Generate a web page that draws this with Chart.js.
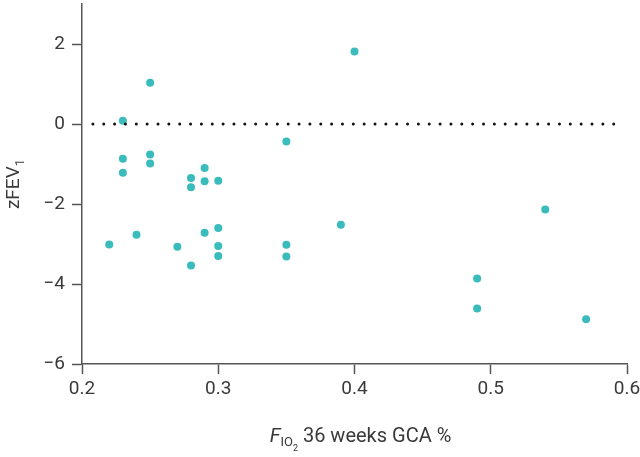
<!DOCTYPE html>
<html>
<head>
<meta charset="utf-8">
<script src="https://cdn.jsdelivr.net/npm/chart.js@4"></script>
<style>
  html, body { margin: 0; padding: 0; background: #fff; }
  #wrap { width: 640px; height: 457px; }
</style>
</head>
<body>
<div id="wrap"><canvas id="myChart" width="640" height="457"></canvas></div>
<script>
// FiO2 at 36 weeks GCA vs zFEV1
const fio2 = [0.23, 0.25, 0.40, 0.23, 0.23, 0.25, 0.25, 0.35, 0.28, 0.29, 0.29, 0.30, 0.28,
              0.22, 0.24, 0.27, 0.28, 0.29, 0.30, 0.30, 0.30, 0.35, 0.35, 0.39, 0.49, 0.49, 0.54, 0.57]
const zfev1 = [0.08, 1.03, 1.81, -0.87, -1.22, -0.76, -0.99, -0.44, -1.35, -1.10, -1.43, -1.42, -1.58,
               -3.01, -2.77, -3.07, -3.54, -2.72, -2.60, -3.05, -3.30, -3.02, -3.31, -2.52, -3.86, -4.61, -2.14, -4.88]
const xTicks = [0.2, 0.3, 0.4, 0.5, 0.6]
const yTicks = [-6, -4, -2, 0, 2]
const refLineY = 0
const refLineX = [0.208, 0.591]

const axisColor = '#555'
const textColor = '#3a3a3a'
const fontName = 'Roboto'

const points = fio2.map((x, i) => ({ x: x, y: zfev1[i] }))
const refLine = refLineX.map(x => ({ x: x, y: refLineY }))

// titulos con subindices
const axisTitles = {
    id: 'axisTitles',
    afterDraw(chart) {
        const ctx = chart.ctx
        const area = chart.chartArea
        ctx.save()
        ctx.fillStyle = textColor
        ctx.textBaseline = 'alphabetic'
        ctx.textAlign = 'left'

        // x title
        const parts = [
            { t: 'F', f: 'italic 20px ' + fontName, dy: 0 },
            { t: 'IO', f: '13px ' + fontName, dy: 4 },
            { t: '2', f: '9px ' + fontName, dy: 9 },
            { t: ' 36 weeks GCA %', f: '20px ' + fontName, dy: 0 }
        ]
        let total = 0
        for (const p of parts) { ctx.font = p.f; p.w = ctx.measureText(p.t).width; total += p.w }
        let x = (area.left + area.right) / 2 + 6 - total / 2
        const base = 442
        for (const p of parts) {
            ctx.font = p.f
            ctx.fillText(p.t, x, base + p.dy)
            x += p.w
        }

        // y title
        ctx.translate(19, (area.top + area.bottom) / 2)
        ctx.rotate(-Math.PI / 2)
        const yparts = [
            { t: 'zFEV', f: '19px ' + fontName, dy: 0 },
            { t: '1', f: '13px ' + fontName, dy: 5 }
        ]
        let tw = 0
        for (const p of yparts) { ctx.font = p.f; p.w = ctx.measureText(p.t).width; tw += p.w }
        let px = -tw / 2
        for (const p of yparts) {
            ctx.font = p.f
            ctx.fillText(p.t, px, p.dy)
            px += p.w
        }
        ctx.restore()
    }
}

const config = {
    type: 'scatter',
    data: {
        datasets: [
            {
                type: 'line',
                data: refLine,
                borderColor: '#111',
                borderWidth: 3,
                borderCapStyle: 'round',
                borderDash: [0, 10.85],
                pointRadius: 0,
                fill: false,
                order: 0
            },
            {
                data: points,
                backgroundColor: '#3bbcbc',
                borderWidth: 0,
                pointRadius: 4,
                pointHoverRadius: 4,
                order: 1
            }
        ]
    },
    options: {
        responsive: false,
        animation: false,
        events: [],
        layout: { padding: { top: 1, right: 0, left: 0, bottom: 0 } },
        plugins: { legend: { display: false }, tooltip: { enabled: false } },
        scales: {
            x: {
                type: 'linear',
                min: 0.2,
                max: 0.6,
                afterBuildTicks: s => { s.ticks = xTicks.map(v => ({ value: v })) },
                afterFit: s => { s.height = 93; s.paddingRight = 13; s.paddingLeft = 0 },
                grid: { drawOnChartArea: false, tickLength: 10, tickColor: axisColor, tickWidth: 1.5 },
                border: { color: axisColor, width: 1.5 },
                ticks: {
                    color: textColor,
                    font: { family: fontName, size: 19 },
                    padding: 4,
                    maxRotation: 0,
                    callback: v => v.toFixed(1)
                }
            },
            y: {
                type: 'linear',
                min: -6,
                max: 3,
                afterBuildTicks: s => { s.ticks = yTicks.map(v => ({ value: v })) },
                afterFit: s => { s.width = 82; s.paddingTop = 0; s.paddingBottom = 0 },
                grid: { drawOnChartArea: false, tickLength: 10, tickColor: axisColor, tickWidth: 1.5 },
                border: { color: axisColor, width: 1.5 },
                ticks: {
                    color: textColor,
                    font: { family: fontName, size: 19 },
                    padding: 7,
                    callback: v => v < 0 ? '\u2212' + Math.abs(v) : String(v)
                }
            }
        }
    },
    plugins: [axisTitles]
}

new Chart(document.getElementById('myChart'), config)
</script>
</body>
</html>
